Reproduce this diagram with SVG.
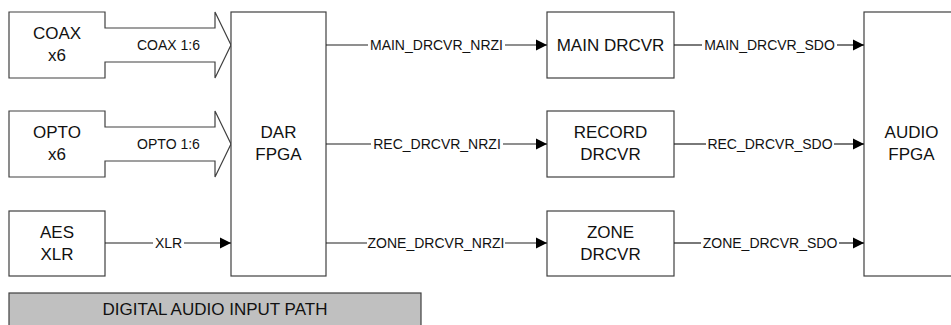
<svg xmlns="http://www.w3.org/2000/svg" width="951" height="325" viewBox="0 0 951 325">
<style>
.box{fill:#fff;stroke:#404040;stroke-width:1.2}
.ln{fill:none;stroke:#202020;stroke-width:1.2}
.big{font-family:"Liberation Sans",Arial,sans-serif;font-size:17px;fill:#111;text-anchor:middle}
.sm{font-family:"Liberation Sans",Arial,sans-serif;font-size:14px;fill:#111;text-anchor:middle}
</style>
<defs>
<marker id="ah" markerUnits="userSpaceOnUse" markerWidth="12" markerHeight="12" refX="11" refY="6" orient="auto">
<path d="M0,0.5 L11,6 L0,11.5 Z" fill="#000"/>
</marker>
</defs>
<rect width="951" height="325" fill="#fff"/>

<g id="coax">
<path class="box" d="M9,12 H105 V28 H215 V12 L231,45 L215,78 V62 H105 V78 H9 Z"/>
<text class="big" x="57" y="39">COAX</text>
<text class="big" x="57" y="61">x6</text>
<text class="sm" x="168.5" y="50">COAX 1:6</text>
</g>
<g id="opto">
<path class="box" d="M9,111 H105 V127 H215 V111 L231,144 L215,177 V161 H105 V177 H9 Z"/>
<text class="big" x="57" y="138">OPTO</text>
<text class="big" x="57" y="160">x6</text>
<text class="sm" x="168.5" y="149">OPTO 1:6</text>
</g>
<g id="aes">
<rect class="box" x="9" y="211" width="96" height="65"/>
<text class="big" x="57" y="237.5">AES</text>
<text class="big" x="57" y="259.5">XLR</text>
</g>
<g id="dar">
<rect class="box" x="231" y="12" width="95" height="264"/>
<text class="big" x="278.5" y="138">DAR</text>
<text class="big" x="278.5" y="160">FPGA</text>
</g>
<g id="main">
<rect class="box" x="547" y="12" width="127" height="66"/>
<text class="big" x="610.5" y="51">MAIN DRCVR</text>
</g>
<g id="record">
<rect class="box" x="547" y="111" width="127" height="66"/>
<text class="big" x="610.5" y="138">RECORD</text>
<text class="big" x="610.5" y="160">DRCVR</text>
</g>
<g id="zone">
<rect class="box" x="547" y="211" width="127" height="65"/>
<text class="big" x="610.5" y="237.5">ZONE</text>
<text class="big" x="610.5" y="259.5">DRCVR</text>
</g>
<g id="audio">
<rect class="box" x="864" y="12" width="100" height="264"/>
<text class="big" x="911.5" y="138">AUDIO</text>
<text class="big" x="911.5" y="160">FPGA</text>
</g>
<g id="caption">
<rect x="9" y="293" width="412" height="40" fill="#c0c0c0" stroke="#404040" stroke-width="1.2"/>
<text class="big" x="215" y="315">DIGITAL AUDIO INPUT PATH</text>
</g>

<g id="connectors">
<path class="ln" d="M105,243 H153"/>
<path class="ln" d="M184,243 H231" marker-end="url(#ah)"/>
<path class="ln" d="M326,45 H368"/>
<path class="ln" d="M505,45 H547" marker-end="url(#ah)"/>
<path class="ln" d="M326,144 H371"/>
<path class="ln" d="M503,144 H547" marker-end="url(#ah)"/>
<path class="ln" d="M326,243 H367"/>
<path class="ln" d="M505,243 H547" marker-end="url(#ah)"/>
<path class="ln" d="M674,45 H702"/>
<path class="ln" d="M837,45 H864" marker-end="url(#ah)"/>
<path class="ln" d="M674,144 H706"/>
<path class="ln" d="M834,144 H864" marker-end="url(#ah)"/>
<path class="ln" d="M674,243 H701"/>
<path class="ln" d="M839,243 H864" marker-end="url(#ah)"/>
</g>
<g id="labels">
<text class="sm" x="168.5" y="248">XLR</text>
<text class="sm" x="436.5" y="50">MAIN_DRCVR_NRZI</text>
<text class="sm" x="437" y="149">REC_DRCVR_NRZI</text>
<text class="sm" x="436" y="248">ZONE_DRCVR_NRZI</text>
<text class="sm" x="769.5" y="50">MAIN_DRCVR_SDO</text>
<text class="sm" x="770" y="149">REC_DRCVR_SDO</text>
<text class="sm" x="770" y="248">ZONE_DRCVR_SDO</text>
</g>
</svg>
